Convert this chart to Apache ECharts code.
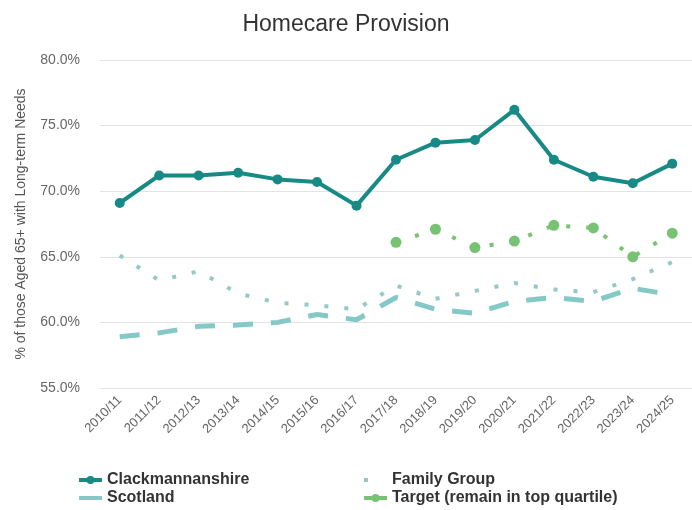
<!DOCTYPE html>
<html>
<head>
<meta charset="utf-8">
<script src="https://cdn.jsdelivr.net/npm/echarts@6/dist/echarts.min.js"></script>
<style>
html,body{margin:0;padding:0;background:#fff;}
#chart{width:692px;height:510px;}
</style>
</head>
<body>
<div id="chart"></div>
<script>
const categories = ['2010/11','2011/12','2012/13','2013/14','2014/15','2015/16','2016/17','2017/18','2018/19','2019/20','2020/21','2021/22','2022/23','2023/24','2024/25'];
const clackmannanshire = [69.1, 71.2, 71.2, 71.4, 70.9, 70.7, 68.9, 72.4, 73.7, 73.9, 76.2, 72.4, 71.1, 70.6, 72.1];
const scotland = [58.9, 59.2, 59.7, 59.8, 60.0, 60.6, 60.2, 61.9, 61.0, 60.7, 61.6, 61.9, 61.6, 62.6, 62.1];
const familyGroup = [65.1, 63.2, 63.9, 62.2, 61.5, 61.3, 61.0, 62.8, 61.8, 62.4, 63.0, 62.5, 62.3, 63.3, 64.6];
const target = [null, null, null, null, null, null, null, 66.1, 67.1, 65.7, 66.2, 67.4, 67.2, 65.0, 66.8];
const yTicks = {min: 55, max: 80, interval: 5};

const chart = echarts.init(document.getElementById('chart'), null, {renderer: 'canvas'});
const font = 'Liberation Sans, Arial, sans-serif';
const legendText = {fontSize: 16, fontWeight: 'bold', color: '#333333', fontFamily: font, lineHeight: 16};
const legendLine = {width: 4, type: 'solid'};
chart.setOption({
  animation: false,
  backgroundColor: '#ffffff',
  textStyle: {fontFamily: font},
  title: {
    text: 'Homecare Provision',
    left: 'center',
    top: 8,
    textStyle: {fontSize: 23, fontWeight: 'normal', color: '#333333', fontFamily: font}
  },
  grid: {left: 100, right: 0, top: 60, bottom: 122},
  xAxis: {
    type: 'category',
    data: categories,
    boundaryGap: true,
    axisLine: {show: true, lineStyle: {color: '#e3e3e3'}},
    axisTick: {show: false},
    axisLabel: {rotate: 45, color: '#666666', fontSize: 13, margin: 10, interval: 0, fontFamily: font}
  },
  yAxis: {
    type: 'value',
    min: yTicks.min, max: yTicks.max, interval: yTicks.interval,
    name: '% of those Aged 65+ with Long-term Needs',
    nameLocation: 'middle',
    nameGap: 72,
    nameTextStyle: {fontSize: 14, color: '#555555', fontFamily: font},
    axisLine: {show: false},
    axisTick: {show: false},
    splitLine: {lineStyle: {color: '#e3e3e3', width: 1}},
    axisLabel: {color: '#666666', fontSize: 14, margin: 20, fontFamily: font,
      formatter: v => v.toFixed(1) + '%'}
  },
  legend: [
    {
      orient: 'vertical', left: 77, top: 472, height: 40, padding: 0, itemGap: 2, itemWidth: 23, itemHeight: 10,
      textStyle: legendText, lineStyle: legendLine,
      data: [
        'Clackmannanshire',
        {name: 'Scotland', icon: 'path://M0,0h0.01v0.01h-0.01z M0,3h23v4h-23z M22.99,9.99h0.01v0.01h-0.01z'}
      ]
    },
    {
      orient: 'vertical', left: 362, top: 472, height: 40, padding: 0, itemGap: 2, itemWidth: 23, itemHeight: 10,
      textStyle: legendText, lineStyle: legendLine,
      data: [
        {name: 'Family Group', icon: 'path://M0,0h0.01v0.01h-0.01z M0,3h4v4h-4z M22.99,9.99h0.01v0.01h-0.01z'},
        'Target (remain in top quartile)'
      ]
    }
  ],
  series: [
    {
      name: 'Clackmannanshire', type: 'line', data: clackmannanshire, z: 5,
      symbol: 'circle', symbolSize: 10,
      itemStyle: {color: '#178a85'},
      lineStyle: {color: '#178a85', width: 4}
    },
    {
      name: 'Scotland', type: 'line', data: scotland, z: 2,
      symbol: 'none',
      itemStyle: {color: '#84c9c7'},
      lineStyle: {color: '#84c9c7', width: 5, type: [20, 18], cap: 'butt'}
    },
    {
      name: 'Family Group', type: 'line', data: familyGroup, z: 3,
      symbol: 'none',
      itemStyle: {color: '#93c9c7'},
      lineStyle: {color: '#93c9c7', width: 4, type: [4, 16], cap: 'butt'}
    },
    {
      name: 'Target (remain in top quartile)', type: 'line', data: target, z: 4,
      symbol: 'circle', symbolSize: 11,
      itemStyle: {color: '#78c373'},
      lineStyle: {color: '#78c373', width: 4, type: [4, 16], cap: 'butt'}
    }
  ]
});
</script>
</body>
</html>
